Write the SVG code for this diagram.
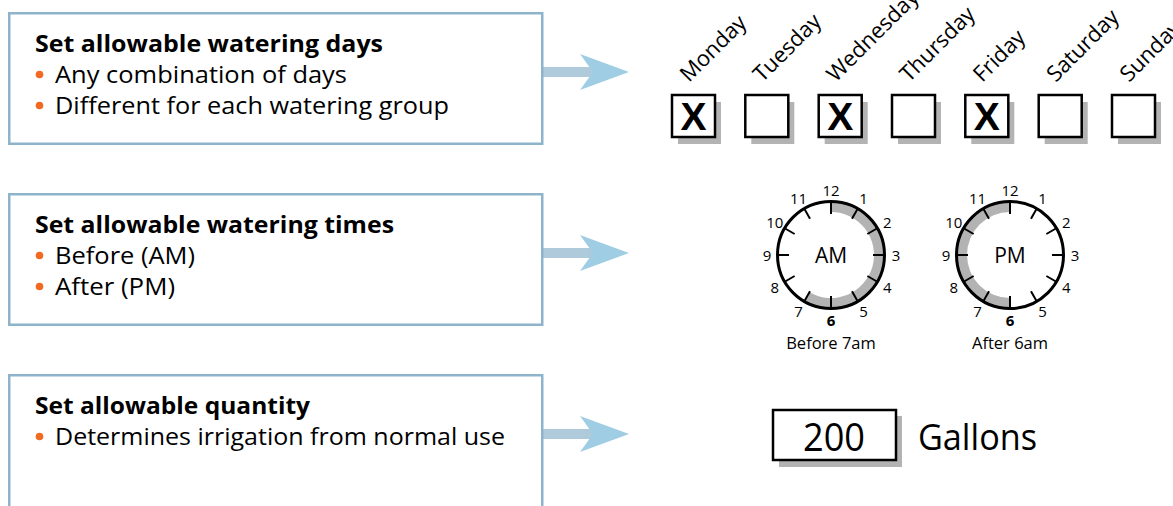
<svg xmlns="http://www.w3.org/2000/svg" width="1173" height="506" viewBox="0 0 1173 506">
<style>
text{font-family:"Open Sans","Noto Sans","Liberation Sans",sans-serif;fill:#000}
.panel{fill:#fff;stroke:#8db4ca;stroke-width:2.5}
.title{font-size:23px;font-weight:bold}
.item{font-size:23px}
.dot{fill:#f26a21}
.shadow{fill:#b3b3b3}
.cb{fill:#fff;stroke:#000;stroke-width:2.5}
.x{font-family:"Liberation Sans",sans-serif;font-size:39px;font-weight:bold;text-anchor:middle}
.day{font-size:22px}
.face{fill:none;stroke:#000;stroke-width:3}
.band{fill:#b3b3b3}
.tick{stroke:#000;stroke-width:2}
.num{font-size:15px;text-anchor:middle}
.six{font-weight:bold}
.ampm{font-size:21px;text-anchor:middle}
.cap{font-size:16.5px;text-anchor:middle}
.shaft{fill:#afcbdb}
.head{fill:#9fcde3}
</style>
<defs>
<g id="arrow">
<rect class="shaft" x="543" y="-5" width="51" height="10"/>
<polygon class="head" points="580,-18 629,0 580,18 593,0"/>
</g>
<g id="ticks">
<line class="tick" x1="0" y1="-53" x2="0" y2="-41"/>
<line class="tick" x1="0" y1="-53" x2="0" y2="-42" transform="rotate(30)"/>
<line class="tick" x1="0" y1="-53" x2="0" y2="-42" transform="rotate(60)"/>
<line class="tick" x1="0" y1="-53" x2="0" y2="-42" transform="rotate(90)"/>
<line class="tick" x1="0" y1="-53" x2="0" y2="-42" transform="rotate(120)"/>
<line class="tick" x1="0" y1="-53" x2="0" y2="-42" transform="rotate(150)"/>
<line class="tick" x1="0" y1="-53" x2="0" y2="-41" transform="rotate(180)"/>
<line class="tick" x1="0" y1="-53" x2="0" y2="-42" transform="rotate(210)"/>
<line class="tick" x1="0" y1="-53" x2="0" y2="-42" transform="rotate(240)"/>
<line class="tick" x1="0" y1="-53" x2="0" y2="-42" transform="rotate(270)"/>
<line class="tick" x1="0" y1="-53" x2="0" y2="-42" transform="rotate(300)"/>
<line class="tick" x1="0" y1="-53" x2="0" y2="-42" transform="rotate(330)"/>
</g>
<g id="nums">
<text class="num" x="0" y="-59.5">12</text>
<text class="num" x="32.5" y="-50.8">1</text>
<text class="num" x="56.3" y="-27">2</text>
<text class="num" x="65" y="5.5">3</text>
<text class="num" x="56.3" y="38">4</text>
<text class="num" x="32.5" y="61.8">5</text>
<text class="num six" x="0" y="71">6</text>
<text class="num" x="-32.5" y="61.8">7</text>
<text class="num" x="-56.3" y="38">8</text>
<text class="num" x="-64" y="5.5">9</text>
<text class="num" x="-56.3" y="-27">10</text>
<text class="num" x="-32.5" y="-50.8">11</text>
</g>
</defs>

<g id="connectors">
<use href="#arrow" transform="translate(0,72)"/>
<use href="#arrow" transform="translate(0,253)"/>
<use href="#arrow" transform="translate(0,434)"/>
</g>

<g id="days-panel">
<rect class="panel" x="9.25" y="13.25" width="533" height="130.5"/>
<text class="title" x="35" y="52" textLength="348" lengthAdjust="spacingAndGlyphs">Set allowable watering days</text>
<circle class="dot" cx="39.5" cy="74.5" r="3.8"/>
<text class="item" x="55" y="83" textLength="292" lengthAdjust="spacingAndGlyphs">Any combination of days</text>
<circle class="dot" cx="39.5" cy="105.5" r="3.8"/>
<text class="item" x="55" y="114" textLength="394" lengthAdjust="spacingAndGlyphs">Different for each watering group</text>
</g>

<g id="times-panel">
<rect class="panel" x="9.25" y="194.25" width="533" height="130.5"/>
<text class="title" x="35" y="233" textLength="359" lengthAdjust="spacingAndGlyphs">Set allowable watering times</text>
<circle class="dot" cx="39.5" cy="255.5" r="3.8"/>
<text class="item" x="55" y="264" textLength="140" lengthAdjust="spacingAndGlyphs">Before (AM)</text>
<circle class="dot" cx="39.5" cy="286.5" r="3.8"/>
<text class="item" x="55" y="295" textLength="120" lengthAdjust="spacingAndGlyphs">After (PM)</text>
</g>

<g id="quantity-panel">
<rect class="panel" x="9.25" y="375.25" width="533" height="150"/>
<text class="title" x="35" y="414" textLength="275" lengthAdjust="spacingAndGlyphs">Set allowable quantity</text>
<circle class="dot" cx="39.5" cy="436.5" r="3.8"/>
<text class="item" x="55" y="445" textLength="450" lengthAdjust="spacingAndGlyphs">Determines irrigation from normal use</text>
</g>

<g id="monday">
<text class="day" transform="translate(689,83) rotate(-45)">Monday</text>
<rect class="shadow" x="678" y="102" width="43" height="42"/>
<rect class="cb" x="672" y="95" width="43" height="42"/>
<text class="x" x="693.5" y="130">X</text>
</g>
<g id="tuesday">
<text class="day" transform="translate(762.3,83) rotate(-45)">Tuesday</text>
<rect class="shadow" x="751.3" y="102" width="43" height="42"/>
<rect class="cb" x="745.3" y="95" width="43" height="42"/>
</g>
<g id="wednesday">
<text class="day" transform="translate(835.7,83) rotate(-45)">Wednesday</text>
<rect class="shadow" x="824.7" y="102" width="43" height="42"/>
<rect class="cb" x="818.7" y="95" width="43" height="42"/>
<text class="x" x="840.2" y="130">X</text>
</g>
<g id="thursday">
<text class="day" transform="translate(909,83) rotate(-45)">Thursday</text>
<rect class="shadow" x="898" y="102" width="43" height="42"/>
<rect class="cb" x="892" y="95" width="43" height="42"/>
</g>
<g id="friday">
<text class="day" transform="translate(982.3,83) rotate(-45)">Friday</text>
<rect class="shadow" x="971.3" y="102" width="43" height="42"/>
<rect class="cb" x="965.3" y="95" width="43" height="42"/>
<text class="x" x="986.8" y="130">X</text>
</g>
<g id="saturday">
<text class="day" transform="translate(1055.7,83) rotate(-45)">Saturday</text>
<rect class="shadow" x="1044.7" y="102" width="43" height="42"/>
<rect class="cb" x="1038.7" y="95" width="43" height="42"/>
</g>
<g id="sunday">
<text class="day" transform="translate(1129,83) rotate(-45)">Sunday</text>
<rect class="shadow" x="1118" y="102" width="43" height="42"/>
<rect class="cb" x="1112" y="95" width="43" height="42"/>
</g>

<g id="am-clock">
<circle cx="831" cy="255" r="53.5" fill="#fff"/>
<path class="band" d="M831 202 A53 53 0 1 1 804.5 300.9 L809.5 292.24 A43 43 0 1 0 831 212 Z"/>
<circle class="face" cx="831" cy="255" r="53.5"/>
<use href="#ticks" transform="translate(831,255)"/>
<use href="#nums" transform="translate(831,255)"/>
<text class="ampm" x="831" y="263">AM</text>
<text class="cap" x="831" y="349">Before 7am</text>
</g>

<g id="pm-clock">
<circle cx="1010" cy="255" r="53.5" fill="#fff"/>
<path class="band" d="M1010 308 A53 53 0 0 1 1010 202 L1010 212 A43 43 0 0 0 1010 298 Z"/>
<circle class="face" cx="1010" cy="255" r="53.5"/>
<use href="#ticks" transform="translate(1010,255)"/>
<use href="#nums" transform="translate(1010,255)"/>
<text class="ampm" x="1010" y="263">PM</text>
<text class="cap" x="1010" y="349">After 6am</text>
</g>

<g id="quantity">
<rect class="shadow" x="779" y="416" width="123" height="51"/>
<rect class="cb" x="773" y="410" width="123" height="50"/>
<text x="834" y="451" style="font-size:38px;text-anchor:middle" textLength="62" lengthAdjust="spacingAndGlyphs">200</text>
<text x="918" y="450" style="font-size:37px" textLength="119" lengthAdjust="spacingAndGlyphs">Gallons</text>
</g>
</svg>
